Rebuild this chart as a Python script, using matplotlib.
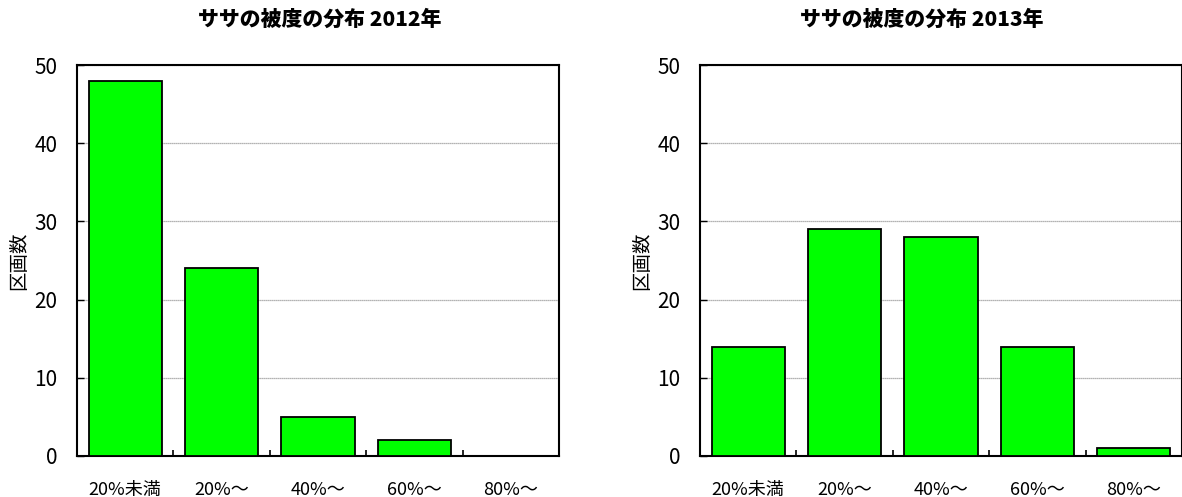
import numpy as np
import matplotlib
matplotlib.use("Agg")
import matplotlib.pyplot as plt

plt.rcParams['font.family'] = ['Noto Sans CJK JP', 'DejaVu Sans']

categories = ["20%未満", "20%〜", "40%〜", "60%〜", "80%〜"]
counts_2012 = [48, 24, 5, 2, 0]
counts_2013 = [14, 29, 28, 14, 1]
titles = ["ササの被度の分布 2012年", "ササの被度の分布 2013年"]
ylabel = "区画数"

W, H = 1182, 497
fig = plt.figure(figsize=(W / 100, H / 100), dpi=100)

panels = [
    (77, counts_2012, titles[0], 320),
    (700, counts_2013, titles[1], 922),
]
ax_w = 482
top, bottom = 65, 456

for x0, counts, title, title_x in panels:
    ax = fig.add_axes([x0 / W, 1 - bottom / H, ax_w / W, (bottom - top) / H])
    x = np.arange(len(categories))
    ax.bar(x, counts, width=0.76, color="#00ff00", edgecolor="black",
           linewidth=1.3, zorder=3)
    ax.set_xlim(-0.5, len(categories) - 0.5)
    ax.set_ylim(0, 50)
    ax.set_yticks(range(0, 51, 10))
    ax.grid(axis="y", color="#9a9a9a", linewidth=0.9, linestyle=(0, (1, 0.6)), zorder=0)

    # category boundaries carry the tick marks, centres carry the labels
    ax.set_xticks(np.arange(0.5, len(categories) - 0.5, 1))
    ax.set_xticklabels([])
    ax.tick_params(axis="x", which="major", direction="in", length=4, width=1.2)
    ax.set_xticks(x, minor=True)
    ax.set_xticklabels(categories, minor=True, fontsize=13)
    ax.tick_params(axis="x", which="minor", length=0, pad=18)
    ax.tick_params(axis="y", direction="in", length=5, width=1, labelsize=15, pad=14)

    for s in ax.spines.values():
        s.set_linewidth(1.5)
        s.set_color("black")

    ax.set_ylabel(ylabel, fontsize=14)
    ax.yaxis.set_label_coords(-48 / ax_w, 0.5)

    fig.text(title_x / W, 1 - 20 / H, title, ha="center", va="center",
             fontsize=15, fontweight="heavy")

fig.savefig("out.png", dpi=100)
